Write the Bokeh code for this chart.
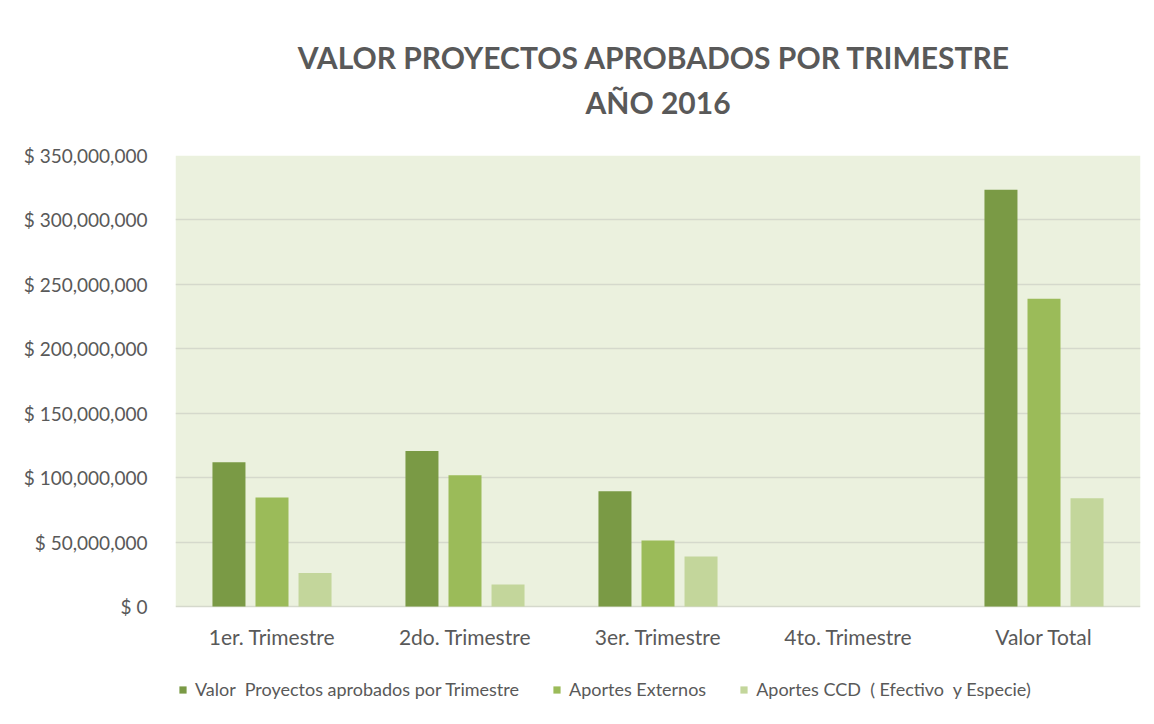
from bokeh.plotting import figure
from bokeh.models import (ColumnDataSource, FactorRange, Range1d, Legend, LegendItem,
                          Title, CustomJSTickFormatter, FixedTicker, Grid)
from bokeh.core.properties import value
from bokeh.transform import dodge
from bokeh.embed import file_html
from bokeh.resources import INLINE

categories = ["1er. Trimestre", "2do. Trimestre", "3er. Trimestre", "4to.  Trimestre", "Valor Total"]
valor_proyectos = [112000000, 120600000, 89500000, 0, 323500000]
aportes_externos = [84600000, 101900000, 51200000, 0, 238900000]
aportes_ccd = [26000000, 17100000, 38800000, 0, 84000000]
series_names = ["Valor  Proyectos aprobados por Trimestre", "Aportes Externos",
                "Aportes CCD  ( Efectivo  y Especie)"]
y_ticks = [0, 50000000, 100000000, 150000000, 200000000, 250000000, 300000000, 350000000]
title_lines = ["VALOR PROYECTOS  APROBADOS POR TRIMESTRE", "AÑO 2016"]

colors = ["#7a9a45", "#9bbb59", "#c3d69b"]
FONT = "Lato"
TEXT_COLOR = "#595959"

y_max = y_ticks[-1]
plot_px, legend_px = 451, 100          # plot area height and room for labels + legend, in pixels
y_min = -y_max * legend_px / plot_px

src = ColumnDataSource(dict(cat=categories, a=valor_proyectos, b=aportes_externos, c=aportes_ccd,
                            base=[0] * len(categories)))

p = figure(x_range=FactorRange(*categories, range_padding=0), y_range=Range1d(y_min, y_max),
           frame_width=965, frame_height=plot_px + legend_px, x_axis_location=None,
           output_backend="svg", toolbar_location=None,
           min_border_left=175, min_border_right=6, min_border_top=155, min_border_bottom=10)

p.background_fill_color = "white"
p.border_fill_color = "white"
p.outline_line_color = None

# green plot area drawn as a grid band between 0 and the top of the axis
p.xgrid.grid_line_color = None
p.ygrid.ticker = FixedTicker(ticks=[0, y_max])
p.ygrid.grid_line_color = None
p.ygrid.band_fill_color = "#ebf1de"
p.ygrid.band_fill_alpha = 1.0
p.add_layout(Grid(dimension=1, ticker=FixedTicker(ticks=y_ticks),
                  grid_line_color="#d5d9cc", grid_line_width=1.5))

renderers = []
for key, off, col in zip(["a", "b", "c"], [-0.223, 0.0, 0.223], colors):
    r = p.vbar(x=dodge("cat", off, range=p.x_range), top=key, width=0.171, bottom=0,
               source=src, fill_color=col, line_color=None)
    renderers.append(r)

# category labels under the zero line
p.text(x="cat", y="base", text="cat", source=src, y_offset=30, text_align="center",
       text_baseline="middle", text_font=value(FONT), text_font_size="21px", text_color=TEXT_COLOR)

p.yaxis.ticker = FixedTicker(ticks=y_ticks)
p.yaxis.formatter = CustomJSTickFormatter(code='return "$ " + tick.toLocaleString("en-US");')
p.yaxis.axis_line_color = None
p.yaxis.major_tick_line_color = None
p.yaxis.minor_tick_line_color = None
p.yaxis.major_label_standoff = 22
p.yaxis.major_label_text_font = FONT
p.yaxis.major_label_text_font_size = "19px"
p.yaxis.major_label_text_color = TEXT_COLOR

items = [LegendItem(label=n, renderers=[r]) for n, r in zip(series_names, renderers)]
legend = Legend(items=items, orientation="horizontal", location=(3, 6),
                label_text_font=FONT, label_text_font_size="18px", label_text_color=TEXT_COLOR,
                glyph_width=9, glyph_height=9, spacing=33, border_line_color=None,
                background_fill_alpha=0, margin=0, padding=0, label_standoff=8)
p.add_layout(legend, "center")

# titles stack outward from the frame: spacer first, then second line, then first line
p.add_layout(Title(text=" ", text_font_size="1px", standoff=29), "above")
p.add_layout(Title(text=title_lines[1], align="center", text_font=FONT, text_font_size="30px",
                   text_color=TEXT_COLOR, text_font_style="bold", standoff=7), "above")
p.add_layout(Title(text=title_lines[0], align="center", text_font=FONT, text_font_size="30px",
                   text_color=TEXT_COLOR, text_font_style="bold", standoff=7), "above")

open("out.html", "w").write(file_html(p, INLINE))
